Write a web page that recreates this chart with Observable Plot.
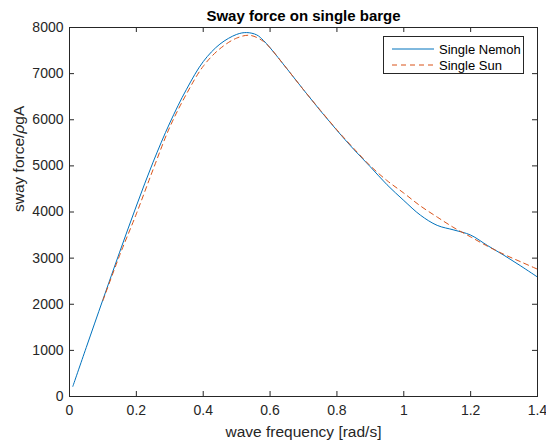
<!DOCTYPE html>
<html>
<head>
<meta charset="utf-8">
<script src="https://cdn.jsdelivr.net/npm/d3@7"></script>
<script src="https://cdn.jsdelivr.net/npm/@observablehq/plot@0.6"></script>
<style>
  html, body { margin: 0; padding: 0; background: #fff; }
  #wrap { position: relative; width: 546px; height: 443px; font-family: "Liberation Sans", Arial, Helvetica, sans-serif; }
  #legend { position: absolute; left: 383px; top: 36px; width: 139px; height: 36px; border: 1px solid #262626; background: #fff; font-size: 13px; color: #000; }
  #legend .row { position: absolute; left: 0; height: 16px; display: flex; align-items: center; }
  #legend svg { margin-left: 8px; margin-right: 5px; }
</style>
</head>
<body>
<div id="wrap"></div>
<script>
// ---- data ----
const nemohX = [0.01,0.05,0.10,0.15,0.20,0.25,0.30,0.35,0.40,0.45,0.50,0.53,0.56,0.58,0.60,0.65,0.70,0.75,0.80,0.85,0.90,0.95,1.00,1.05,1.10,1.15,1.20,1.25,1.30,1.35,1.40];
const nemohY = [220,1060,2100,3130,4130,5080,5930,6660,7260,7640,7850,7890,7840,7720,7560,7110,6650,6200,5770,5360,4980,4590,4250,3930,3710,3610,3500,3275,3060,2830,2590];
const sunX = [0.10,0.15,0.20,0.25,0.30,0.35,0.40,0.45,0.50,0.54,0.58,0.60,0.65,0.70,0.75,0.80,0.85,0.90,0.95,1.00,1.05,1.10,1.15,1.20,1.25,1.30,1.35,1.40];
const sunY = [2080,3060,3960,4920,5840,6560,7160,7540,7770,7830,7700,7560,7110,6650,6210,5780,5380,5000,4680,4410,4130,3890,3660,3460,3260,3080,2920,2760];
const xTicks = [0,0.2,0.4,0.6,0.8,1,1.2,1.4];
const yTicks = [0,1000,2000,3000,4000,5000,6000,7000,8000];
const xTickLabels = ["0","0.2","0.4","0.6","0.8","1","1.2","1.4"];
const yTickLabels = ["0","1000","2000","3000","4000","5000","6000","7000","8000"];
const seriesNames = ["Single Nemoh", "Single Sun"];
const seriesColors = ["#0072BD", "#D95319"];
const titleText = "Sway force on single barge";
const xLabel = "wave frequency [rad/s]";
const yLabel = "sway force/ρgA";

const nemoh = nemohX.map((x, i) => ({x, y: nemohY[i]}));
const sun = sunX.map((x, i) => ({x, y: sunY[i]}));

const W = 546, H = 443, mL = 69, mR = 9, mT = 27, mB = 47;
const pw = W - mL - mR, ph = H - mT - mB;
const ink = "#262626";
const tickLen = 5;

const chart = Plot.plot({
  width: W, height: H,
  marginLeft: mL, marginRight: mR, marginTop: mT, marginBottom: mB,
  x: {domain: [0, 1.4]},
  y: {domain: [0, 8000]},
  style: {fontFamily: "'Liberation Sans', Arial, Helvetica, sans-serif", color: ink, background: "#fff", overflow: "visible"},
  marks: [
    Plot.line(nemoh, {x: "x", y: "y", stroke: seriesColors[0], strokeWidth: 1, curve: "catmull-rom"}),
    Plot.line(sun, {x: "x", y: "y", stroke: seriesColors[1], strokeWidth: 1, strokeDasharray: "5,4", curve: "catmull-rom"}),
    Plot.frame({stroke: ink, strokeWidth: 1}),
    // inward ticks on all four sides
    Plot.ruleX(xTicks, {x: d => d, stroke: ink, insetTop: ph - tickLen}),
    Plot.ruleX(xTicks, {x: d => d, stroke: ink, insetBottom: ph - tickLen}),
    Plot.ruleY(yTicks, {y: d => d, stroke: ink, insetRight: pw - tickLen}),
    Plot.ruleY(yTicks, {y: d => d, stroke: ink, insetLeft: pw - tickLen}),
    Plot.axisX({ticks: xTicks, tickSize: 0, tickPadding: 9, fontSize: 14, tickFormat: d => xTickLabels[xTicks.indexOf(d)], label: null, fill: ink}),
    Plot.axisY({ticks: yTicks, tickSize: 0, tickPadding: 6, fontSize: 14, tickFormat: d => yTickLabels[yTicks.indexOf(d)], label: null, fill: ink}),
    Plot.text([titleText], {text: d => d, frameAnchor: "top", dy: -11, fontSize: 15, fontWeight: "bold", fill: "#000", lineAnchor: "middle"}),
    Plot.text([xLabel], {text: d => d, frameAnchor: "bottom", dy: 36, fontSize: 15.5, fill: ink, lineAnchor: "middle"}),
    Plot.text([yLabel], {text: d => d, frameAnchor: "left", dx: -50, rotate: -90, fontSize: 15.5, fill: ink, lineAnchor: "middle"})
  ]
});

// italic rho in the y label
d3.select(chart).selectAll("text").each(function() {
  const t = d3.select(this);
  if (t.text() === yLabel) {
    const parts = yLabel.split("ρ");
    t.text(null);
    t.append("tspan").text(parts[0]);
    t.append("tspan").attr("font-style", "italic").text("ρ");
    t.append("tspan").text(parts[1]);
  }
});

const wrap = document.getElementById("wrap");
wrap.appendChild(chart);

// legend
const legend = document.createElement("div");
legend.id = "legend";
seriesNames.forEach((name, i) => {
  const row = document.createElement("div");
  row.className = "row";
  row.style.top = (4 + i * 16) + "px";
  const dash = i === 1 ? "5,4" : "none";
  row.innerHTML = `<svg width="42" height="4"><line x1="0" y1="2" x2="42" y2="2" stroke="${seriesColors[i]}" stroke-width="1" stroke-dasharray="${dash}"/></svg><span>${name}</span>`;
  legend.appendChild(row);
});
wrap.appendChild(legend);
</script>
</body>
</html>
